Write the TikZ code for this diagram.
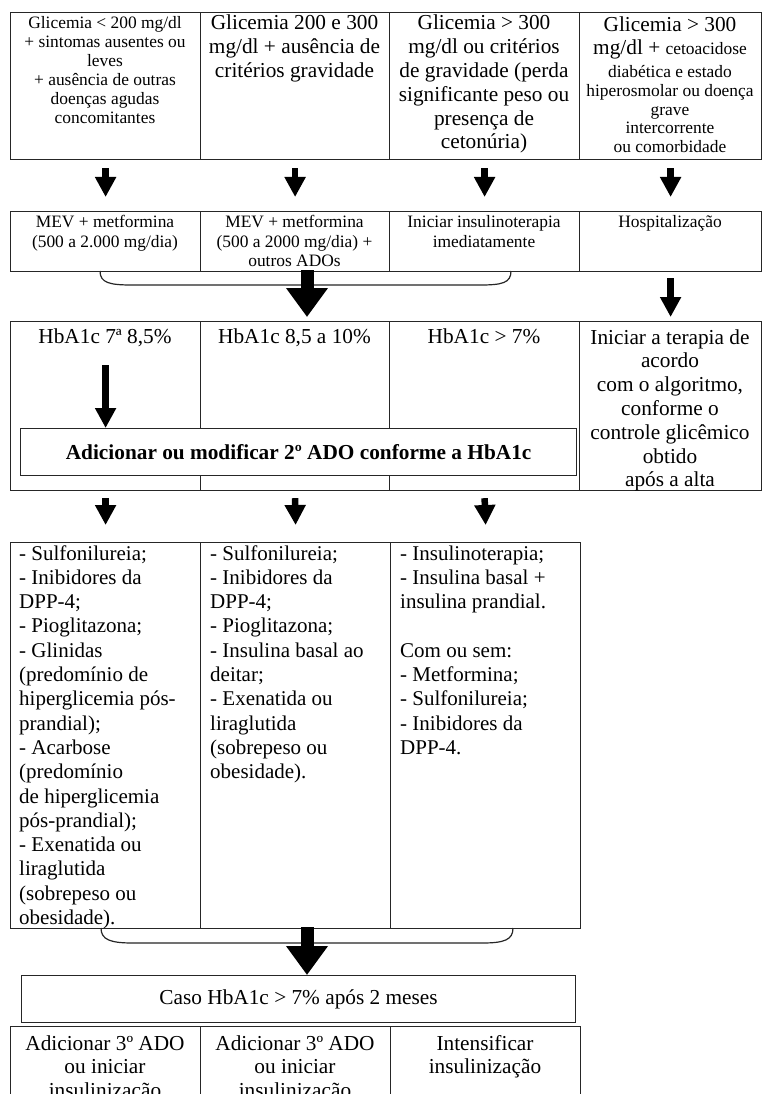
\documentclass[tikz,border=0pt]{standalone}
\usepackage{fontspec}
\setmainfont{Liberation Serif}
\usetikzlibrary{arrows.meta}
\newcommand\fbig{\fontsize{21.3}{23.8}\selectfont\lineskiplimit=-50pt\lineskip=0pt}
\newcommand\fmed{\fontsize{17.4}{19.5}\selectfont\lineskiplimit=-50pt\lineskip=0pt}
\newcommand\fsml{\fontsize{17.4}{19}\selectfont\lineskiplimit=-50pt\lineskip=0pt}
\newcommand\fsmb{\fontsize{17.4}{18.7}\selectfont\lineskiplimit=-50pt\lineskip=0pt}
\newcommand\flst{\fontsize{21}{24.3}\selectfont\lineskiplimit=-50pt\lineskip=0pt}
\begin{document}
\begin{tikzpicture}[x=1pt,y=-1pt,
  cell/.style={draw=black!85, line width=1.2pt, rectangle, anchor=north west, inner sep=0pt},
  txt/.style={inner sep=0pt, anchor=base, align=center, text=black},
  lst/.style={inner sep=0pt, anchor=base west, align=left, text=black, font=\flst},
  arr/.style={draw=black, line width=6.5pt, -{Triangle[length=20pt,width=20pt]}},
  bigarr/.style={draw=black, line width=13pt, -{Triangle[length=29pt,width=40pt]}},
  brace/.style={draw=black!85, line width=1.2pt}]
\path[use as bounding box, clip] (0,0) rectangle (763,1094);
\fill[white] (0,0) rectangle (763,1094);

% ---- row 1 (text nodes are anchored at the baseline of their last line)
\node[cell, minimum width=190pt, minimum height=147pt] (t1) at (10,12) {};
\node[cell, minimum width=189pt, minimum height=147pt] (t2) at (200,12) {};
\node[cell, minimum width=190pt, minimum height=147pt] (t3) at (389,12) {};
\node[cell, minimum width=182pt, minimum height=147pt] (t4) at (579,12) {};
\node[txt, font=\fsml] (t1t) at (105,123.7) {Glicemia < 200 mg/dl\\+ sintomas ausentes ou\\leves\\+ ausência de outras\\doenças agudas\\concomitantes};
\node[txt, font=\fbig] (t2t) at (294.5,77.6) {Glicemia 200 e 300\\mg/dl + ausência de\\critérios gravidade};
\node[txt, font=\fbig] (t3t) at (484,149) {Glicemia > 300\\mg/dl ou critérios\\de gravidade (perda\\significante peso ou\\presença de\\cetonúria)};
\node[txt, font=\fbig] (t4t) at (670,55) {Glicemia > 300\\mg/dl + {\fsmb cetoacidose}};
\node[txt, font=\fsmb] (t4s) at (670,152.5) {diabética e estado\\hiperosmolar ou doença\\grave\\intercorrente\\ou comorbidade};

% ---- row 2
\node[cell, minimum width=190pt, minimum height=60pt] (m1) at (10,211) {};
\node[cell, minimum width=189pt, minimum height=60pt] (m2) at (200,211) {};
\node[cell, minimum width=190pt, minimum height=60pt] (m3) at (389,211) {};
\node[cell, minimum width=182pt, minimum height=60pt] (m4) at (579,211) {};
\node[txt, font=\fmed] (m1t) at (105,247.2) {MEV + metformina\\(500 a 2.000 mg/dia)};
\node[txt, font=\fmed] (m2t) at (294.5,266.7) {MEV + metformina\\(500 a 2000 mg/dia) +\\outros ADOs};
\node[txt, font=\fmed] (m3t) at (484,247.2) {Iniciar insulinoterapia\\imediatamente};
\node[txt, font=\fmed] (m4t) at (670,227.7) {Hospitalização};

\draw[arr] ([yshift=-8pt]t1.south) -- ([yshift=14pt]m1.north);
\draw[arr] ([yshift=-8pt]t2.south) -- ([yshift=14pt]m2.north);
\draw[arr] ([yshift=-8pt]t3.south) -- ([yshift=14pt]m3.north);
\draw[arr] ([yshift=-8pt]t4.south) -- ([yshift=14pt]m4.north);

% ---- row 3
\node[cell, minimum width=190pt, minimum height=169pt] (h1) at (10,321) {};
\node[cell, minimum width=189pt, minimum height=169pt] (h2) at (200,321) {};
\node[cell, minimum width=190pt, minimum height=169pt] (h3) at (389,321) {};
\node[cell, minimum width=182pt, minimum height=169pt] (h4) at (579,321) {};
\node[txt, font=\fbig] (h1t) at (105,343) {HbA1c 7ª 8,5\%};
\node[txt, font=\fbig] (h2t) at (294.5,343) {HbA1c 8,5 a 10\%};
\node[txt, font=\fbig] (h3t) at (484,343) {HbA1c > 7\%};
\node[txt, font=\fbig] (h4t) at (670,486.8) {Iniciar a terapia de\\acordo\\com o algoritmo,\\conforme o\\controle glicêmico\\obtido\\após a alta};

\node[cell, fill=white, minimum width=556pt, minimum height=47pt] (add) at (20,428) {};
\node[inner sep=0pt, font=\fbig\bfseries] (addt) at (add.center) {Adicionar ou modificar 2º ADO conforme a HbA1c};

% brace + big arrow row2 -> row3
\coordinate (bra1) at (307,270);
\coordinate (bra2) at (307,317);
\draw[brace] (100,271) .. controls (100,283) and (110,285) .. (132,285) -- (480,285) .. controls (502,285) and (511,283) .. (511,271);
\draw[bigarr] (bra1) -- (bra2);
\draw[arr] ([yshift=-6pt]m4.south) -- ([yshift=4pt]h4.north);
\draw[arr] ([yshift=-44pt]h1.north) -- (add.north -| h1.south);

% ---- lists
\node[cell, minimum width=190pt, minimum height=386pt] (l1) at (10,542) {};
\node[cell, minimum width=190pt, minimum height=386pt] (l2) at (200,542) {};
\node[cell, minimum width=190pt, minimum height=386pt] (l3) at (390,542) {};
\draw[arr] ([yshift=-7pt]h1.south) -- ([yshift=17pt]l1.north);
\draw[arr] ([yshift=-7pt]h2.south) -- ([yshift=17pt]l2.north);
\draw[arr] ([yshift=-7pt]h3.south) -- ([yshift=17pt]l3.north);
\node[lst] (l1t) at (19,924.5) {- Sulfonilureia;\\- Inibidores da\\DPP-4;\\- Pioglitazona;\\- Glinidas\\(predomínio de\\hiperglicemia pós-\\prandial);\\- Acarbose\\(predomínio\\de hiperglicemia\\pós-prandial);\\- Exenatida ou\\liraglutida\\(sobrepeso ou\\obesidade).};
\node[lst] (l2t) at (210,778.7) {- Sulfonilureia;\\- Inibidores da\\DPP-4;\\- Pioglitazona;\\- Insulina basal ao\\deitar;\\- Exenatida ou\\liraglutida\\(sobrepeso ou\\obesidade).};
\node[lst] (l3t) at (400,754.4) {- Insulinoterapia;\\- Insulina basal +\\insulina prandial.\\\mbox{}\\Com ou sem:\\- Metformina;\\- Sulfonilureia;\\- Inibidores da\\DPP-4.};

% brace + big arrow lists -> caso
\coordinate (brb1) at (307,927);
\coordinate (brb2) at (307,975);
\draw[brace] (101,928) .. controls (101,940) and (111,943) .. (133,943) -- (482,943) .. controls (504,943) and (513,940) .. (513,928);
\draw[bigarr] (brb1) -- (brb2);

\node[cell, fill=white, minimum width=554pt, minimum height=47pt] (caso) at (21,975) {};
\node[inner sep=0pt, font=\fbig] (casot) at (caso.center) {Caso HbA1c > 7\% após 2 meses};

% ---- bottom row
\node[cell, minimum width=190pt, minimum height=100pt] (b1) at (10,1026) {};
\node[cell, minimum width=190pt, minimum height=100pt] (b2) at (200,1026) {};
\node[cell, minimum width=190pt, minimum height=100pt] (b3) at (390,1026) {};
\node[txt, font=\fbig] (b1t) at (105,1097.6) {Adicionar 3º ADO\\ou iniciar\\insulinização};
\node[txt, font=\fbig] (b2t) at (295,1097.6) {Adicionar 3º ADO\\ou iniciar\\insulinização};
\node[txt, font=\fbig] (b3t) at (485,1073.8) {Intensificar\\insulinização};
\end{tikzpicture}
\end{document}
